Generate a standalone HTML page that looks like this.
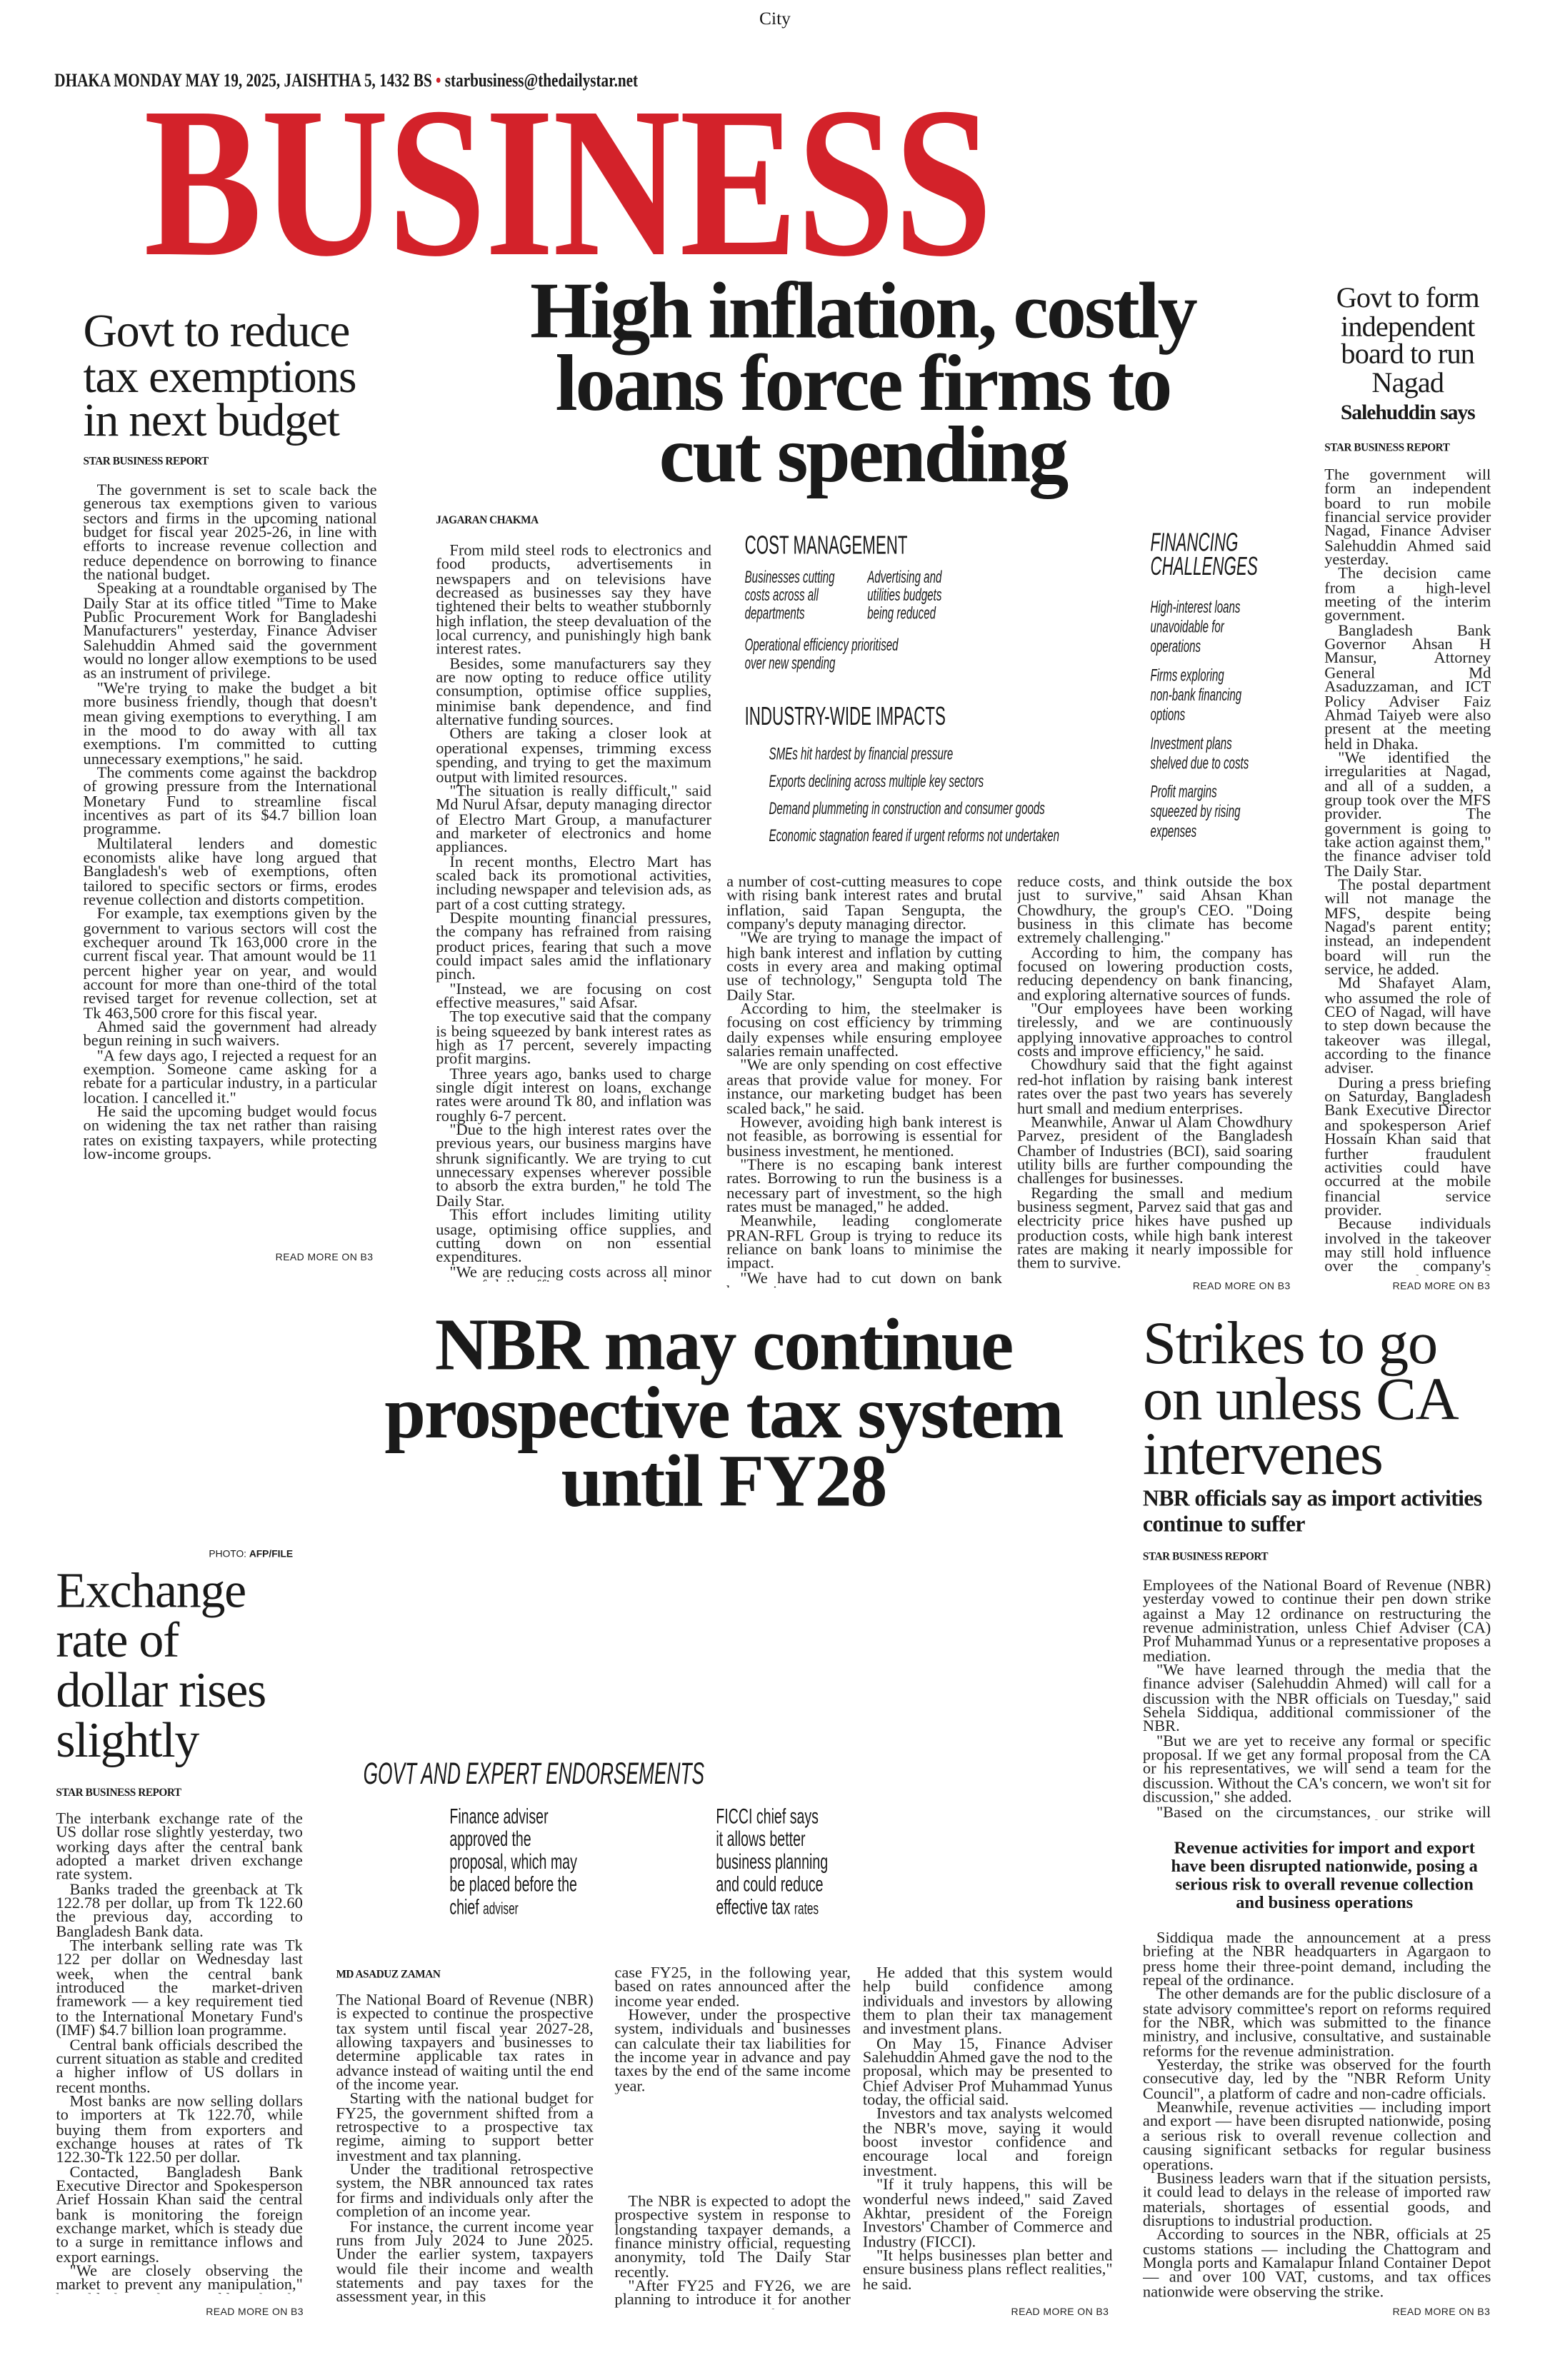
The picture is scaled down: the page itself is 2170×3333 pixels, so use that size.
<!DOCTYPE html>
<html><head><meta charset="utf-8">
<style>
html,body{margin:0;padding:0;background:#fff;}
body{width:2170px;height:3333px;overflow:hidden;position:relative;}
#p{position:absolute;left:0;top:0;width:1024px;height:1573px;transform:scale(2.1191,2.1189);transform-origin:0 0;color:#1a1a1a;font-family:"Liberation Serif",serif;}
.a{position:absolute;}
.col{position:absolute;font-size:10.6px;line-height:9.35px;text-align:justify;overflow:hidden;font-family:"Liberation Serif",serif;color:#222;}
.col p{margin:0;text-indent:9px;}
.col p.n{text-indent:0;}
.by{position:absolute;font-size:7.2px;font-weight:bold;letter-spacing:-0.2px;font-family:"Liberation Serif",serif;}
.rm{position:absolute;font-size:6.6px;font-family:"Liberation Sans",sans-serif;color:#222;letter-spacing:0.2px;background:#fff;}
.hl{position:absolute;font-family:"Liberation Serif",serif;}
.nar{position:absolute;font-family:"Liberation Sans",sans-serif;transform-origin:0 0;white-space:nowrap;}
</style></head><body><div id="p">

<div class="a" style="left:0;width:1024px;top:5px;text-align:center;font-size:12px;">City</div>
<div class="a" style="left:36px;top:46px;font-size:12.5px;font-weight:bold;white-space:nowrap;transform:scaleX(0.8);transform-origin:0 0;">DHAKA MONDAY MAY 19, 2025, JAISHTHA 5, 1432 BS <span style="color:#d3222a;">&bull;</span> starbusiness@thedailystar.net</div>

<div class="a" style="left:95px;top:50px;font-size:142px;line-height:140px;font-weight:bold;color:#d3222a;white-space:nowrap;transform:scaleX(0.825);transform-origin:0 0;letter-spacing:-1px;">BUSINESS</div>

<!-- left story -->
<div class="hl" style="left:55px;top:204px;width:210px;font-size:31px;line-height:29.5px;letter-spacing:-0.6px;">Govt to reduce<br>tax exemptions<br>in next budget</div>
<div class="by" style="left:55px;top:301px;">STAR BUSINESS REPORT</div>
<div class="col" style="left:55px;top:320px;width:194px;height:505px;">
<p>The government is set to scale back the generous tax exemptions given to various sectors and firms in the upcoming national budget for fiscal year 2025-26, in line with efforts to increase revenue collection and reduce dependence on borrowing to finance the national budget.</p>
<p>Speaking at a roundtable organised by The Daily Star at its office titled "Time to Make Public Procurement Work for Bangladeshi Manufacturers" yesterday, Finance Adviser Salehuddin Ahmed said the government would no longer allow exemptions to be used as an instrument of privilege.</p>
<p>"We're trying to make the budget a bit more business friendly, though that doesn't mean giving exemptions to everything. I am in the mood to do away with all tax exemptions. I'm committed to cutting unnecessary exemptions," he said.</p>
<p>The comments come against the backdrop of growing pressure from the International Monetary Fund to streamline fiscal incentives as part of its $4.7 billion loan programme.</p>
<p>Multilateral lenders and domestic economists alike have long argued that Bangladesh's web of exemptions, often tailored to specific sectors or firms, erodes revenue collection and distorts competition.</p>
<p>For example, tax exemptions given by the government to various sectors will cost the exchequer around Tk 163,000 crore in the current fiscal year. That amount would be 11 percent higher year on year, and would account for more than one-third of the total revised target for revenue collection, set at Tk 463,500 crore for this fiscal year.</p>
<p>Ahmed said the government had already begun reining in such waivers.</p>
<p>"A few days ago, I rejected a request for an exemption. Someone came asking for a rebate for a particular industry, in a particular location. I cancelled it."</p>
<p>He said the upcoming budget would focus on widening the tax net rather than raising rates on existing taxpayers, while protecting low-income groups.</p>
</div>
<div class="rm" style="left:182px;top:828px;">READ MORE ON B3</div>

<!-- main headline -->
<div class="hl" style="left:220px;top:183px;width:700px;text-align:center;font-size:53px;line-height:47.5px;font-weight:bold;transform:scaleX(1.0);transform-origin:350px 0;letter-spacing:-1.5px;white-space:nowrap;">High inflation, costly<br>loans force firms to<br>cut spending</div>
<div class="by" style="left:288px;top:340px;">JAGARAN CHAKMA</div>
<div class="col" style="left:288px;top:360px;width:182px;height:487px;">
<p>From mild steel rods to electronics and food products, advertisements in newspapers and on televisions have decreased as businesses say they have tightened their belts to weather stubbornly high inflation, the steep devaluation of the local currency, and punishingly high bank interest rates.</p>
<p>Besides, some manufacturers say they are now opting to reduce office utility consumption, optimise office supplies, minimise bank dependence, and find alternative funding sources.</p>
<p>Others are taking a closer look at operational expenses, trimming excess spending, and trying to get the maximum output with limited resources.</p>
<p>"The situation is really difficult," said Md Nurul Afsar, deputy managing director of Electro Mart Group, a manufacturer and marketer of electronics and home appliances.</p>
<p>In recent months, Electro Mart has scaled back its promotional activities, including newspaper and television ads, as part of a cost cutting strategy.</p>
<p>Despite mounting financial pressures, the company has refrained from raising product prices, fearing that such a move could impact sales amid the inflationary pinch.</p>
<p>"Instead, we are focusing on cost effective measures," said Afsar.</p>
<p>The top executive said that the company is being squeezed by bank interest rates as high as 17 percent, severely impacting profit margins.</p>
<p>Three years ago, banks used to charge single digit interest on loans, exchange rates were around Tk 80, and inflation was roughly 6-7 percent.</p>
<p>"Due to the high interest rates over the previous years, our business margins have shrunk significantly. We are trying to cut unnecessary expenses wherever possible to absorb the extra burden," he told The Daily Star.</p>
<p>This effort includes limiting utility usage, optimising office supplies, and cutting down on non essential expenditures.</p>
<p>"We are reducing costs across all minor areas of daily office expenses — wherever there is room to save," he said.</p>
<p>Similarly, BSRM Steels Limited is adopting</p>
</div>

<!-- infographic -->
<div class="nar" style="left:492px;top:351px;font-size:17px;transform:scaleX(0.62);">COST MANAGEMENT</div>
<div class="nar" style="left:492px;top:376px;font-size:11.5px;line-height:12px;font-style:italic;transform:scaleX(0.62);white-space:normal;width:130px;">Businesses cutting<br>costs across all<br>departments</div>
<div class="nar" style="left:573px;top:376px;font-size:11.5px;line-height:12px;font-style:italic;transform:scaleX(0.62);white-space:normal;width:130px;">Advertising and<br>utilities budgets<br>being reduced</div>
<div class="nar" style="left:492px;top:421px;font-size:11.5px;line-height:12px;font-style:italic;transform:scaleX(0.62);">Operational efficiency prioritised<br>over new spending</div>
<div class="nar" style="left:492px;top:464px;font-size:17px;transform:scaleX(0.62);">INDUSTRY-WIDE IMPACTS</div>
<div class="nar" style="left:508px;top:490px;font-size:11.5px;line-height:18px;font-style:italic;transform:scaleX(0.62);">SMEs hit hardest by financial pressure<br>Exports declining across multiple key sectors<br>Demand plummeting in construction and consumer goods<br>Economic stagnation feared if urgent reforms not undertaken</div>
<div class="nar" style="left:760px;top:351px;font-size:17px;line-height:16px;font-style:italic;transform:scaleX(0.62);">FINANCING<br>CHALLENGES</div>
<div class="nar" style="left:760px;top:396px;font-size:11.5px;line-height:13px;font-style:italic;transform:scaleX(0.62);">High-interest loans<br>unavoidable for<br>operations<br><span style="display:block;height:6px"></span>Firms exploring<br>non-bank financing<br>options<br><span style="display:block;height:6px"></span>Investment plans<br>shelved due to costs<br><span style="display:block;height:6px"></span>Profit margins<br>squeezed by rising<br>expenses</div>

<div class="col" style="left:480px;top:579px;width:182px;height:272px;">
<p class="n">a number of cost-cutting measures to cope with rising bank interest rates and brutal inflation, said Tapan Sengupta, the company's deputy managing director.</p>
<p>"We are trying to manage the impact of high bank interest and inflation by cutting costs in every area and making optimal use of technology," Sengupta told The Daily Star.</p>
<p>According to him, the steelmaker is focusing on cost efficiency by trimming daily expenses while ensuring employee salaries remain unaffected.</p>
<p>"We are only spending on cost effective areas that provide value for money. For instance, our marketing budget has been scaled back," he said.</p>
<p>However, avoiding high bank interest is not feasible, as borrowing is essential for business investment, he mentioned.</p>
<p>"There is no escaping bank interest rates. Borrowing to run the business is a necessary part of investment, so the high rates must be managed," he added.</p>
<p>Meanwhile, leading conglomerate PRAN-RFL Group is trying to reduce its reliance on bank loans to minimise the impact.</p>
<p>"We have had to cut down on bank borrowing,</p>
</div>
<div class="col" style="left:672px;top:579px;width:182px;height:262px;">
<p class="n">reduce costs, and think outside the box just to survive," said Ahsan Khan Chowdhury, the group's CEO. "Doing business in this climate has become extremely challenging."</p>
<p>According to him, the company has focused on lowering production costs, reducing dependency on bank financing, and exploring alternative sources of funds.</p>
<p>"Our employees have been working tirelessly, and we are continuously applying innovative approaches to control costs and improve efficiency," he said.</p>
<p>Chowdhury said that the fight against red-hot inflation by raising bank interest rates over the past two years has severely hurt small and medium enterprises.</p>
<p>Meanwhile, Anwar ul Alam Chowdhury Parvez, president of the Bangladesh Chamber of Industries (BCI), said soaring utility bills are further compounding the challenges for businesses.</p>
<p>Regarding the small and medium business segment, Parvez said that gas and electricity price hikes have pushed up production costs, while high bank interest rates are making it nearly impossible for them to survive.</p>
</div>
<div class="rm" style="left:788px;top:847px;">READ MORE ON B3</div>

<!-- right top -->
<div class="hl" style="left:870px;top:189px;width:120px;text-align:center;font-size:19px;line-height:18.5px;letter-spacing:-0.4px;">Govt to form independent board to run Nagad</div>
<div class="hl" style="left:866px;top:266px;width:128px;text-align:center;font-size:14px;font-weight:bold;letter-spacing:-0.5px;">Salehuddin says</div>
<div class="by" style="left:875px;top:292px;">STAR BUSINESS REPORT</div>
<div class="col" style="left:875px;top:310px;width:110px;height:533px;">
<p class="n">The government will form an independent board to run mobile financial service provider Nagad, Finance Adviser Salehuddin Ahmed said yesterday.</p>
<p>The decision came from a high-level meeting of the interim government.</p>
<p>Bangladesh Bank Governor Ahsan H Mansur, Attorney General Md Asaduzzaman, and ICT Policy Adviser Faiz Ahmad Taiyeb were also present at the meeting held in Dhaka.</p>
<p>"We identified the irregularities at Nagad, and all of a sudden, a group took over the MFS provider. The government is going to take action against them," the finance adviser told The Daily Star.</p>
<p>The postal department will not manage the MFS, despite being Nagad's parent entity; instead, an independent board will run the service, he added.</p>
<p>Md Shafayet Alam, who assumed the role of CEO of Nagad, will have to step down because the takeover was illegal, according to the finance adviser.</p>
<p>During a press briefing on Saturday, Bangladesh Bank Executive Director and spokesperson Arief Hossain Khan said that further fraudulent activities could have occurred at the mobile financial service provider.</p>
<p>Because individuals involved in the takeover may still hold influence over the company's operations, the central bank has decided to retain its administrator for now, he said.</p>
</div>
<div class="rm" style="left:920px;top:847px;">READ MORE ON B3</div>

<!-- NBR headline -->
<div class="hl" style="left:178px;top:866px;width:600px;text-align:center;font-size:49px;line-height:45px;font-weight:bold;transform:scaleX(1.0);transform-origin:300px 0;letter-spacing:-1px;white-space:nowrap;">NBR may continue<br>prospective tax system<br>until FY28</div>

<!-- Strikes -->
<div class="hl" style="left:755px;top:870px;width:240px;font-size:40px;line-height:36.5px;letter-spacing:-0.6px;">Strikes to go<br>on unless CA<br>intervenes</div>
<div class="hl" style="left:755px;top:983px;width:240px;font-size:15px;line-height:17px;font-weight:bold;letter-spacing:-0.3px;">NBR officials say as import activities continue to suffer</div>
<div class="by" style="left:755px;top:1025px;">STAR BUSINESS REPORT</div>
<div class="col" style="left:755px;top:1044px;width:230px;height:159px;">
<p class="n">Employees of the National Board of Revenue (NBR) yesterday vowed to continue their pen down strike against a May 12 ordinance on restructuring the revenue administration, unless Chief Adviser (CA) Prof Muhammad Yunus or a representative proposes a mediation.</p>
<p>"We have learned through the media that the finance adviser (Salehuddin Ahmed) will call for a discussion with the NBR officials on Tuesday," said Sehela Siddiqua, additional commissioner of the NBR.</p>
<p>"But we are yet to receive any formal or specific proposal. If we get any formal proposal from the CA or his representatives, we will send a team for the discussion. Without the CA's concern, we won't sit for discussion," she added.</p>
<p>"Based on the circumstances, our strike will continue tomorrow (Monday) in the same manner, from 9:00am to 3:00pm," she said.</p>
</div>
<div class="hl" style="left:770px;top:1216px;width:210px;text-align:center;font-size:11.5px;line-height:12px;font-weight:bold;">Revenue activities for import and export have been disrupted nationwide, posing a serious risk to overall revenue collection and business operations</div>
<div class="col" style="left:755px;top:1277px;width:230px;height:243px;">
<p>Siddiqua made the announcement at a press briefing at the NBR headquarters in Agargaon to press home their three-point demand, including the repeal of the ordinance.</p>
<p>The other demands are for the public disclosure of a state advisory committee's report on reforms required for the NBR, which was submitted to the finance ministry, and inclusive, consultative, and sustainable reforms for the revenue administration.</p>
<p>Yesterday, the strike was observed for the fourth consecutive day, led by the "NBR Reform Unity Council", a platform of cadre and non-cadre officials.</p>
<p>Meanwhile, revenue activities — including import and export — have been disrupted nationwide, posing a serious risk to overall revenue collection and causing significant setbacks for regular business operations.</p>
<p>Business leaders warn that if the situation persists, it could lead to delays in the release of imported raw materials, shortages of essential goods, and disruptions to industrial production.</p>
<p>According to sources in the NBR, officials at 25 customs stations — including the Chattogram and Mongla ports and Kamalapur Inland Container Depot — and over 100 VAT, customs, and tax offices nationwide were observing the strike.</p>
</div>
<div class="rm" style="left:920px;top:1525px;">READ MORE ON B3</div>

<!-- Exchange -->
<div class="a" style="left:138px;top:1024px;font-size:6.5px;font-family:'Liberation Sans',sans-serif;">PHOTO: <b>AFP/FILE</b></div>
<div class="hl" style="left:37px;top:1036px;width:200px;font-size:33px;line-height:33px;letter-spacing:-0.6px;">Exchange<br>rate of<br>dollar rises<br>slightly</div>
<div class="by" style="left:37px;top:1181px;">STAR BUSINESS REPORT</div>
<div class="col" style="left:37px;top:1198px;width:163px;height:318px;">
<p class="n">The interbank exchange rate of the US dollar rose slightly yesterday, two working days after the central bank adopted a market driven exchange rate system.</p>
<p>Banks traded the greenback at Tk 122.78 per dollar, up from Tk 122.60 the previous day, according to Bangladesh Bank data.</p>
<p>The interbank selling rate was Tk 122 per dollar on Wednesday last week, when the central bank introduced the market-driven framework — a key requirement tied to the International Monetary Fund's (IMF) $4.7 billion loan programme.</p>
<p>Central bank officials described the current situation as stable and credited a higher inflow of US dollars in recent months.</p>
<p>Most banks are now selling dollars to importers at Tk 122.70, while buying them from exporters and exchange houses at rates of Tk 122.30-Tk 122.50 per dollar.</p>
<p>Contacted, Bangladesh Bank Executive Director and Spokesperson Arief Hossain Khan said the central bank is monitoring the foreign exchange market, which is steady due to a surge in remittance inflows and export earnings.</p>
<p>"We are closely observing the market to prevent any manipulation," he told The Daily Star, adding that the central bank has warned banks against any such activities.</p>
</div>
<div class="rm" style="left:136px;top:1525px;">READ MORE ON B3</div>

<!-- endorsements -->
<div class="nar" style="left:240px;top:1162px;font-size:20px;font-style:italic;transform:scaleX(0.62);">GOVT AND EXPERT ENDORSEMENTS</div>
<div class="nar" style="left:297px;top:1193px;font-size:14px;line-height:15px;transform:scaleX(0.66);">Finance adviser<br>approved the<br>proposal, which may<br>be placed before the<br>chief <span style="font-size:11px">adviser</span></div>
<div class="nar" style="left:473px;top:1193px;font-size:14px;line-height:15px;transform:scaleX(0.66);">FICCI chief says<br>it allows better<br>business planning<br>and could reduce<br>effective tax <span style="font-size:11px">rates</span></div>

<div class="by" style="left:222px;top:1301px;">MD ASADUZ ZAMAN</div>
<div class="col" style="left:222px;top:1318px;width:170px;height:206px;">
<p class="n">The National Board of Revenue (NBR) is expected to continue the prospective tax system until fiscal year 2027-28, allowing taxpayers and businesses to determine applicable tax rates in advance instead of waiting until the end of the income year.</p>
<p>Starting with the national budget for FY25, the government shifted from a retrospective to a prospective tax regime, aiming to support better investment and tax planning.</p>
<p>Under the traditional retrospective system, the NBR announced tax rates for firms and individuals only after the completion of an income year.</p>
<p>For instance, the current income year runs from July 2024 to June 2025. Under the earlier system, taxpayers would file their income and wealth statements and pay taxes for the assessment year, in this</p>
</div>
<div class="col" style="left:406px;top:1300px;width:156px;height:84px;">
<p class="n">case FY25, in the following year, based on rates announced after the income year ended.</p>
<p>However, under the prospective system, individuals and businesses can calculate their tax liabilities for the income year in advance and pay taxes by the end of the same income year.</p>
</div>
<div class="col" style="left:406px;top:1451px;width:156px;height:75px;">
<p>The NBR is expected to adopt the prospective system in response to longstanding taxpayer demands, a finance ministry official, requesting anonymity, told The Daily Star recently.</p>
<p>"After FY25 and FY26, we are planning to introduce it for another two years. We are working on it," the official said.</p>
</div>
<div class="col" style="left:570px;top:1300px;width:165px;height:215px;">
<p>He added that this system would help build confidence among individuals and investors by allowing them to plan their tax management and investment plans.</p>
<p>On May 15, Finance Adviser Salehuddin Ahmed gave the nod to the proposal, which may be presented to Chief Adviser Prof Muhammad Yunus today, the official said.</p>
<p>Investors and tax analysts welcomed the NBR's move, saying it would boost investor confidence and encourage local and foreign investment.</p>
<p>"If it truly happens, this will be wonderful news indeed," said Zaved Akhtar, president of the Foreign Investors' Chamber of Commerce and Industry (FICCI).</p>
<p>"It helps businesses plan better and ensure business plans reflect realities," he said.</p>
</div>
<div class="rm" style="left:668px;top:1525px;">READ MORE ON B3</div>

</div></body></html>
